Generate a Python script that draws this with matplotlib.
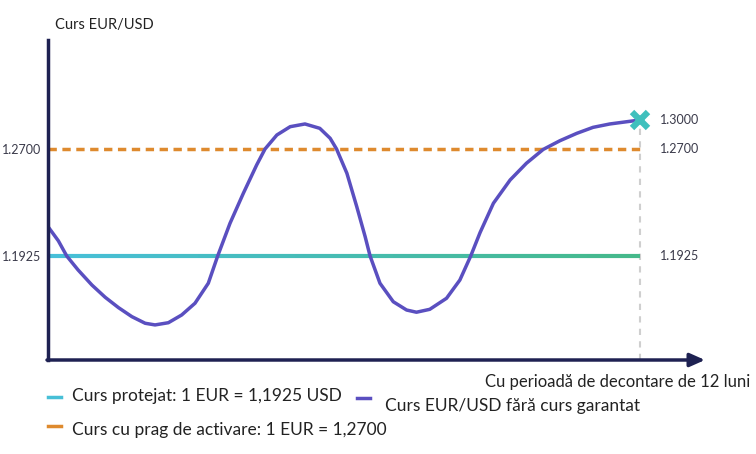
import numpy as np
import matplotlib
matplotlib.use('Agg')
import matplotlib.pyplot as plt
from matplotlib.collections import LineCollection
from matplotlib.colors import to_rgb

# Values
months = [0.00, 0.21, 0.38, 0.61, 0.89, 1.16, 1.43, 1.70, 1.97, 2.17,
          2.44, 2.71, 2.98, 3.25, 3.44, 3.69, 3.96, 4.23, 4.40,
          4.64, 4.91, 5.21, 5.51, 5.72, 5.85, 6.06, 6.26, 6.43, 6.53,
          6.73, 7.00, 7.27, 7.47, 7.74, 8.08, 8.35, 8.57, 8.76, 9.03,
          9.37, 9.70, 10.04, 10.38, 10.72, 11.05, 11.39, 11.73, 12.00]
rate_free = [1.2138, 1.2035, 1.1925, 1.1824, 1.1715, 1.1626, 1.1551, 1.1486,
             1.1438, 1.1426, 1.1442, 1.1498, 1.1583, 1.1728, 1.1925,
             1.2162, 1.2379, 1.2584, 1.2700, 1.2845, 1.2931, 1.2959, 1.2914,
             1.2811, 1.2700, 1.2524, 1.2282, 1.2065, 1.1925, 1.1728, 1.1594,
             1.1534, 1.1518, 1.1539, 1.1619, 1.1751, 1.1925, 1.2095, 1.2307,
             1.2476, 1.2597, 1.2697, 1.2786, 1.2862, 1.2924, 1.2959, 1.2982,
             1.3000]
rate_protected = 1.1925
rate_trigger = 1.2700
rate_end = 1.3000
period_months = 12

tick_values = [rate_trigger, rate_protected]
tick_labels = ['1.2700', '1.1925']
right_labels = ['1.3000', '1.2700', '1.1925']

title = 'Curs EUR/USD'
xlabel = 'Cu perioadă de decontare de 12 luni'
legend_labels = ['Curs protejat: 1 EUR = 1,1925 USD',
                 'Curs EUR/USD fără curs garantat',
                 'Curs cu prag de activare: 1 EUR = 1,2700']

# the picture is not drawn to a linear scale: piecewise mapping
anchor_vals = [1.1172, 1.2700, 1.3828]
anchor_pos = [0.0, 211.0, 320.0]


def fwd(v):
    return np.interp(v, anchor_vals, anchor_pos)


def inv(p):
    return np.interp(p, anchor_pos, anchor_vals)


NAVY = '#1e2152'
PURPLE = '#5a4fc0'
ORANGE = '#de8a2e'
TEXT = '#222222'
LABEL = '#3a3a4a'

plt.rcParams['font.family'] = ['Lato', 'DejaVu Sans']

fig = plt.figure(figsize=(7.56, 4.54), dpi=100)
ax = fig.add_axes([48 / 756, 94 / 454, 657 / 756, 320 / 454])
ax.set_yscale('function', functions=(fwd, inv))
ax.set_xlim(0, 13.32)
ax.set_ylim(anchor_vals[0], anchor_vals[-1])
for s in ax.spines.values():
    s.set_visible(False)
ax.set_xticks([])
ax.set_yticks(tick_values)
ax.set_yticklabels(tick_labels, fontsize=9, color=LABEL)
ax.tick_params(axis='y', length=0, pad=5)

# vertical dashed guide at end of period
ax.plot([period_months, period_months], [anchor_vals[0], rate_end],
        color='#cfcfcf', lw=1.5, ls=(0, (3, 3)), zorder=1)

# protected rate with cyan -> green gradient
xs = np.linspace(0, period_months, 80)
c0, c1 = np.array(to_rgb('#47bfd9')), np.array(to_rgb('#45b98a'))
segs = [[(xs[i], rate_protected), (xs[i + 1], rate_protected)] for i in range(len(xs) - 1)]
cols = [c0 + (c1 - c0) * i / (len(segs) - 1) for i in range(len(segs))]
ax.add_collection(LineCollection(segs, colors=cols, linewidths=3, zorder=2))

# trigger rate
ax.plot([0, period_months], [rate_trigger, rate_trigger], color=ORANGE, lw=2.5,
        ls=(0, (2.4, 1.6)), zorder=2)

# free rate
ax.plot(months, rate_free, color=PURPLE, lw=2.5, solid_capstyle='round',
        solid_joinstyle='round', zorder=3)
ax.plot([period_months], [rate_end], marker='x', ms=11, mew=4.5,
        color='#3fc0bd', zorder=4)

# axes with arrow
ax.plot([0, 0], [anchor_vals[0], anchor_vals[-1]], color=NAVY, lw=2.5,
        clip_on=False, zorder=5)
ax.annotate('', xy=(13.32, anchor_vals[0]), xytext=(-0.02, anchor_vals[0]),
            arrowprops=dict(arrowstyle='-|>,head_length=0.9,head_width=0.4',
                            color=NAVY, lw=2.5, shrinkA=0, shrinkB=0),
            annotation_clip=False, zorder=5)

# right side value labels
for val, lab in zip([rate_end, rate_trigger, rate_protected], right_labels):
    ax.text(12.4, val, lab, fontsize=9, color=LABEL, va='center', ha='left')

fig.text(55 / 756, 1 - 25 / 454, title, fontsize=10.5, color=TEXT,
         ha='left', va='center')
fig.text(750 / 756, 1 - 382 / 454, xlabel, fontsize=12, color=TEXT,
         ha='right', va='center')

# legend drawn by hand to match the layout
leg = [(48, 397, 72, 396, '#47bfd6', legend_labels[0]),
       (357, 398, 385, 406, PURPLE, legend_labels[1]),
       (48, 426, 72, 430, ORANGE, legend_labels[2])]
for x0, ly, tx, ty, col, lab in leg:
    fig.add_artist(plt.Line2D([x0 / 756, (x0 + 13) / 756], [1 - ly / 454, 1 - ly / 454],
                              color=col, lw=2.5))
    fig.text(tx / 756, 1 - ty / 454, lab, fontsize=12.5, color=TEXT,
             ha='left', va='center')

fig.savefig('out.png', dpi=100)
